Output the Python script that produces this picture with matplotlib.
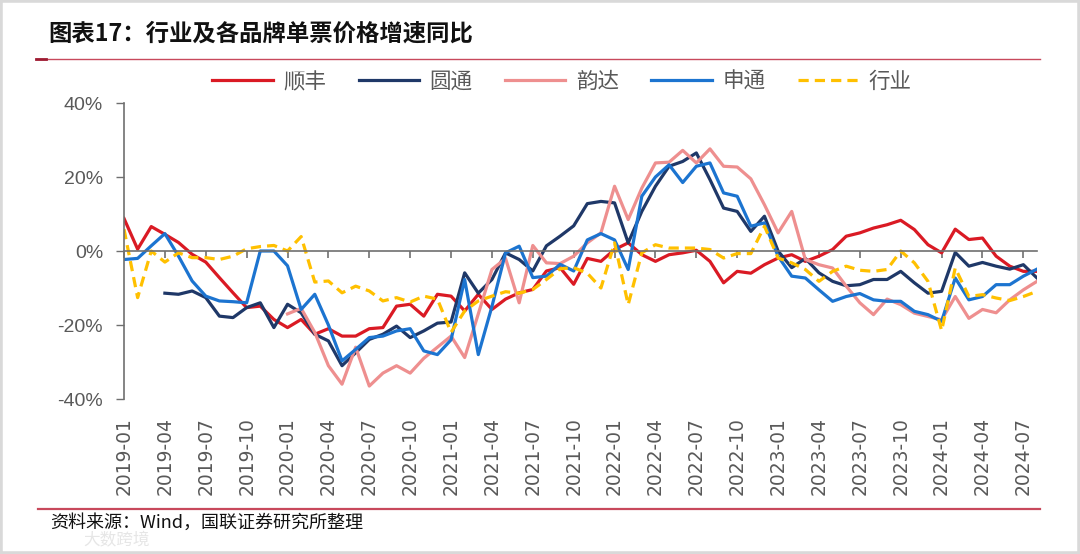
import numpy as np
import pandas as pd
import matplotlib
matplotlib.use("Agg")
import matplotlib.pyplot as plt
from matplotlib.lines import Line2D
from matplotlib.patches import Rectangle
from matplotlib.ticker import FuncFormatter

plt.rcParams['font.family'] = ['Noto Sans CJK SC', 'DejaVu Sans']

nan = np.nan

# months 2019-01 .. 2024-08
months = pd.date_range("2019-01-01", "2024-08-01", freq="MS")
tick_idx = list(range(0, 67, 3))
tick_labels = [months[i].strftime("%Y-%m") for i in tick_idx]

# YoY growth of revenue per parcel (%)
shunfeng = [8.8, 0.5, 6.6, 4.5, 2.3, -0.9, -3.0, -7.2, -11.3, -15.3, -14.9, -18.5,
            -20.7, -18.5, -22.5, -21.0, -23.0, -23.0, -21.0, -20.7, -14.9, -14.4, -17.6, -11.7,
            -12.2, -16.2, -11.7, -15.8, -13.0, -11.3, -10.4, -5.4, -4.5, -9.0, -2.0, -2.8,
            0.4, 2.2, -1.0, -2.8, -1.0, -0.5, 0.2, -2.8, -8.6, -5.5, -6.0, -3.7,
            -1.9, -1.0, -2.8, -1.4, 0.4, 4.0, 4.9, 6.2, 7.1, 8.3, 5.8, 1.7,
            -0.5, 5.9, 3.1, 3.5, -1.4, -4.1, -5.5, -5.5]

yuantong = [nan, nan, nan, -11.4, -11.7, -10.8, -12.6, -17.6, -18.0, -15.3, -14.0, -20.7,
            -14.4, -16.7, -22.5, -24.3, -31.0, -27.5, -23.9, -22.5, -20.3, -23.4, -21.6, -19.5,
            -19.2, -5.9, -11.4, -7.7, -0.5, -2.3, -5.4, 1.4, 4.0, 6.8, 12.8, 13.4,
            13.0, 2.2, 10.7, 17.5, 22.9, 24.2, 26.5, 19.3, 11.6, 10.7, 5.3, 9.4,
            0.0, -4.5, -2.0, -5.9, -8.2, -9.4, -9.1, -7.7, -7.7, -5.5, -8.6, -11.4,
            -10.9, -0.4, -4.1, -3.1, -4.1, -4.9, -3.7, -7.3]

yunda = [nan] * 12 + [
            -17.0, -15.5, -22.0, -31.0, -36.0, -26.0, -36.5, -33.0, -31.0, -33.0, -29.0, -26.0,
            -23.0, -28.8, -17.0, -5.0, -2.0, -14.0, 1.5, -3.2, -3.4, -1.4, 2.2, 4.9,
            17.5, 8.5, 17.0, 23.8, 24.0, 27.2, 23.8, 27.6, 22.9, 22.7, 19.5, 12.5,
            4.9, 10.7, -2.3, -3.7, -4.6, -9.5, -14.0, -17.2, -13.0, -14.5, -16.8, -17.7,
            -18.6, -12.3, -18.2, -15.8, -16.7, -13.2, -10.5, -8.2]

shentong = [-2.3, -2.0, 1.4, 4.7, -1.4, -8.1, -12.2, -13.5, -13.7, -14.0, 0.0, 0.0,
            -4.0, -15.8, -11.7, -20.0, -29.7, -26.6, -23.4, -23.0, -21.6, -21.0, -27.0, -28.0,
            -24.0, -7.7, -28.0, -15.0, -0.5, 1.3, -7.2, -6.8, -3.6, -5.4, 3.0, 4.7,
            3.0, -5.0, 14.8, 20.0, 23.3, 18.5, 22.9, 23.8, 15.7, 14.8, 6.7, 7.6,
            -1.4, -6.8, -7.3, -10.5, -13.6, -12.3, -11.5, -13.2, -13.6, -13.6, -16.3, -17.2,
            -19.0, -7.3, -13.2, -12.3, -9.1, -9.1, -6.8, -4.9]

industry = [5.9, -12.6, 0.0, -3.0, -0.5, -1.8, -1.8, -2.3, -1.4, 0.6, 1.2, 1.5,
            0.0, 3.9, -8.4, -8.1, -11.3, -9.5, -10.8, -13.5, -12.6, -13.8, -12.2, -13.0,
            -22.0, -16.2, -13.5, -12.2, -11.0, -11.4, -10.4, -7.7, -4.8, -4.5, -6.0, -10.0,
            2.2, -14.5, -0.5, 1.7, 0.8, 0.8, 0.8, 0.4, -1.9, -0.7, -0.7, 6.7,
            -1.9, -3.2, -5.0, -8.2, -5.5, -4.1, -5.2, -5.5, -5.0, 0.0, -3.2, -8.2,
            -21.5, -4.6, -12.3, -11.8, -12.7, -13.4, -12.3, -10.9]

x = np.arange(len(months))

fig = plt.figure(figsize=(10.8, 5.54), dpi=100)
ax = fig.add_axes([124 / 1080, 1 - 399 / 554, (1037 - 124) / 1080, (399 - 103) / 554])

lw = 2.3
ax.plot(x, shunfeng, color='#DA1A24', lw=lw, label='顺丰', solid_joinstyle='round')
ax.plot(x, yuantong, color='#1F3868', lw=lw, label='圆通', solid_joinstyle='round')
ax.plot(x, yunda, color='#EE8F8F', lw=lw, label='韵达', solid_joinstyle='round')
ax.plot(x, shentong, color='#1C74D0', lw=lw, label='申通', solid_joinstyle='round')
ax.plot(x, industry, color='#FFC000', lw=lw, ls=(0, (3.2, 1.9)), label='行业')

ax.set_xlim(0, 67)
ax.set_ylim(-40, 40)
ax.set_yticks([-40, -20, 0, 20, 40])
ax.yaxis.set_major_formatter(FuncFormatter(lambda v, p: f"{v:.0f}%"))
ax.tick_params(axis='y', length=6, width=1, color='#6F6F6F', pad=9,
               labelsize=14, labelcolor='#595959')
for lab in ax.get_yticklabels():
    lab.set_fontfamily('Liberation Sans')

# horizontal axis drawn through zero
for s in ['top', 'right']:
    ax.spines[s].set_visible(False)
ax.spines['bottom'].set_position(('data', 0))
ax.spines['bottom'].set_color('#6F6F6F')
ax.spines['left'].set_color('#6F6F6F')
ax.spines['bottom'].set_linewidth(1.2)
ax.spines['left'].set_linewidth(1.2)
ax.set_xticks(tick_idx)
ax.tick_params(axis='x', length=5, width=1.2, color='#6F6F6F', labelbottom=False)

# date labels at the low position
sec = ax.secondary_xaxis('bottom')
sec.set_xticks(tick_idx, labels=tick_labels)
sec.spines['bottom'].set_visible(False)
sec.tick_params(length=0, pad=13, labelrotation=90, labelsize=13.5, labelcolor='#595959')
for lab in sec.get_xticklabels():
    lab.set_fontfamily('DejaVu Sans')

handles, labels = ax.get_legend_handles_labels()
fig.legend(handles, labels, ncol=5, loc='center', bbox_to_anchor=(562 / 1080, 1 - 82 / 554),
           frameon=False, fontsize=15.5, handlelength=2.8, handletextpad=0.5,
           columnspacing=1.5, labelcolor='#595959')

fig.text(48 / 1080, 1 - 34 / 554, '图表17：行业及各品牌单票价格增速同比',
         fontsize=16.8, fontweight='bold', va='center', ha='left', color='#111111')
fig.add_artist(Line2D([36 / 1080, 1040 / 1080], [1 - 59 / 554] * 2, color='#C8495C', lw=1.0))
fig.add_artist(Line2D([36 / 1080, 46 / 1080], [1 - 59 / 554] * 2, color='#9E1B32', lw=2.0))
fig.add_artist(Line2D([38 / 1080, 1040 / 1080], [1 - 509 / 554] * 2, color='#C8495C', lw=1.6))

fig.text(50 / 1080, 1 - 523 / 554, '资料来源：Wind，国联证券研究所整理',
         fontsize=13, va='center', ha='left', color='#111111')
fig.text(150 / 1080, 1 - 541 / 554, '大数跨境', fontsize=12, va='center', ha='right',
         color='#E6E6E6')

fig.add_artist(Rectangle((0, 0), 1, 1, transform=fig.transFigure, fill=False,
                         edgecolor='#D9D9D9', lw=4))

fig.savefig('out.png', dpi=100)
